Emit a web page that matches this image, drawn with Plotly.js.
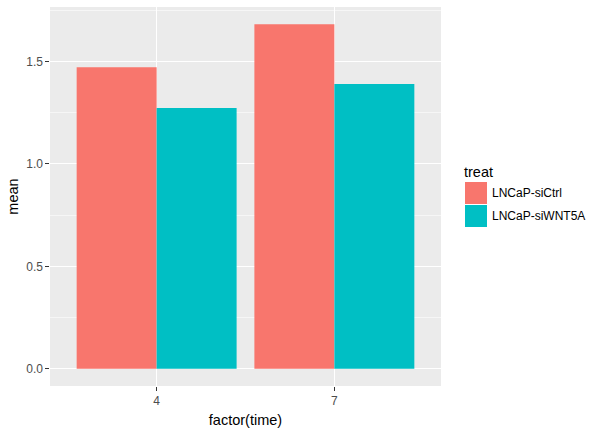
<!DOCTYPE html>
<html>
<head>
<meta charset="utf-8">
<script src="https://cdn.plot.ly/plotly-3.0.1.min.js"></script>
<style>html,body{margin:0;padding:0;background:#fff;}#chart{width:600px;height:433px;}</style>
</head>
<body>
<div id="chart"></div>
<script>
const times = ["4", "7"];
const treats = ["LNCaP-siCtrl", "LNCaP-siWNT5A"];
const siCtrlMean = [1.472, 1.682];
const siWNT5AMean = [1.273, 1.390];
const colors = ["#F8766D", "#00BFC4"];
const yTicks = [0, 0.5, 1.0, 1.5];

const W = 600, H = 433;
const M = {l: 50, r: 159, t: 7, b: 47};
const pw = W - M.l - M.r, ph = H - M.t - M.b;
const px = x => (x - M.l) / pw;
const py = y => (H - M.b - y) / ph;

const series = [siCtrlMean, siWNT5AMean];
const traces = series.map((vals, i) => ({
  type: 'bar', x: times, y: vals, name: treats[i],
  marker: {color: colors[i], line: {width: 0}},
  showlegend: false, hoverinfo: 'x+y+name'
}));

const font = {family: 'Liberation Sans, Arial, sans-serif'};
const shapes = [], annotations = [];
annotations.push({xref: 'paper', yref: 'paper', x: px(462), y: py(172), text: 'treat',
  showarrow: false, xanchor: 'left', yanchor: 'middle',
  font: {family: font.family, size: 14.5, color: '#000'}});
treats.forEach((t, i) => {
  const top = 182 + i * 23;
  shapes.push({type: 'rect', xref: 'paper', yref: 'paper',
    x0: px(465), x1: px(487), y0: py(top), y1: py(top + 22),
    fillcolor: colors[i], line: {width: 0}});
  annotations.push({xref: 'paper', yref: 'paper', x: px(490), y: py(top + 11), text: t,
    showarrow: false, xanchor: 'left', yanchor: 'middle',
    font: {family: font.family, size: 12, color: '#000'}});
});

const layout = {
  width: W, height: H,
  margin: M,
  paper_bgcolor: '#FFFFFF', plot_bgcolor: '#EBEBEB',
  font: font,
  barmode: 'group', bargap: 0.1, bargroupgap: 0,
  xaxis: {
    type: 'category', range: [-0.6, 1.6],
    showgrid: true, gridcolor: '#FFFFFF', gridwidth: 1.1,
    zeroline: false, showline: false,
    ticks: 'outside', ticklen: 3.6, tickwidth: 1, tickcolor: '#333333',
    tickfont: {family: font.family, size: 12, color: '#4D4D4D'},
    title: {text: 'factor(time)', font: {family: font.family, size: 14.5, color: '#000'}, standoff: 7},
    fixedrange: true
  },
  yaxis: {
    range: [-0.084, 1.766],
    tickvals: yTicks, tickformat: '.1f',
    showgrid: true, gridcolor: '#FFFFFF', gridwidth: 1.1,
    minor: {dtick: 0.25, tick0: 0, showgrid: true, gridcolor: '#FFFFFF', gridwidth: 0.55, ticks: ''},
    zeroline: false, showline: false,
    ticks: 'outside', ticklen: 3.6, tickwidth: 1, tickcolor: '#333333',
    tickfont: {family: font.family, size: 12, color: '#4D4D4D'},
    title: {text: 'mean', font: {family: font.family, size: 14.5, color: '#000'}, standoff: 4},
    fixedrange: true
  },
  shapes: shapes,
  annotations: annotations,
  showlegend: false
};

Plotly.newPlot('chart', traces, layout, {displayModeBar: false, staticPlot: true});
</script>
</body>
</html>
